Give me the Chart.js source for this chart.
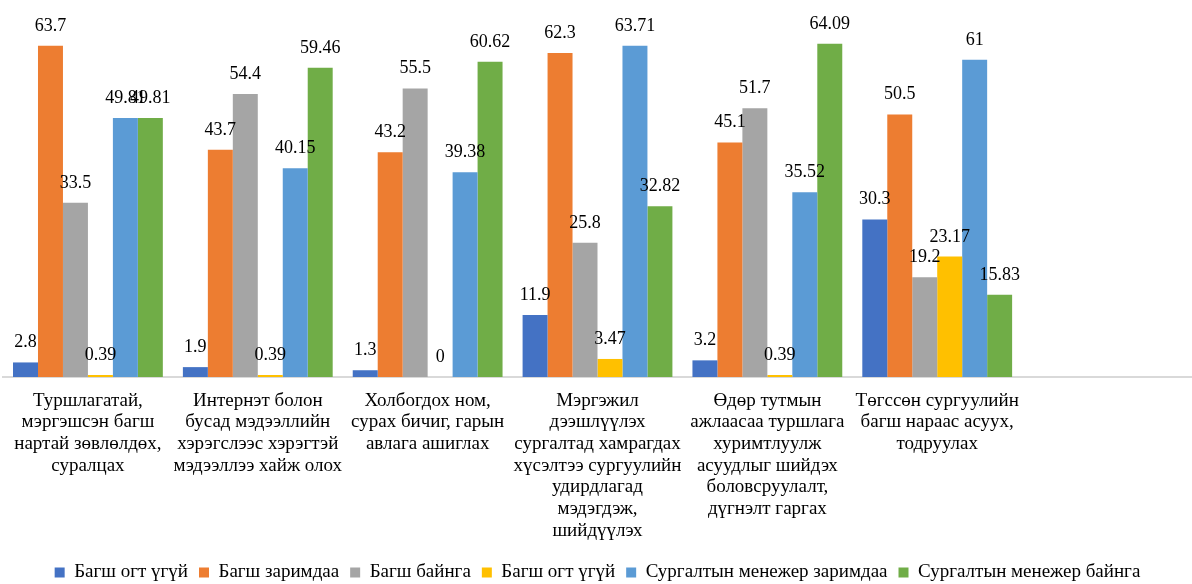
<!DOCTYPE html>
<html>
<head>
<meta charset="utf-8">
<title>Багш нарын мэдлэг олж авах арга</title>
<script src="https://cdn.jsdelivr.net/npm/chart.js@4.4.1/dist/chart.umd.min.js"></script>
<style>
  html, body { margin: 0; padding: 0; background: #fff; }
  #wrap { width: 1192px; height: 584px; }
</style>
</head>
<body>
<div id="wrap"><canvas id="myChart" width="1192" height="584"></canvas></div>
<script>
'use strict';

// categories (last slot left empty on the axis)
var categories = [
  ['Туршлагатай,', 'мэргэшсэн багш', 'нартай зөвлөлдөх,', 'суралцах'],
  ['Интернэт болон', 'бусад мэдээллийн', 'хэрэгслээс хэрэгтэй', 'мэдээллээ хайж олох'],
  ['Холбогдох ном,', 'сурах бичиг, гарын', 'авлага ашиглах'],
  ['Мэргэжил', 'дээшлүүлэх', 'сургалтад хамрагдах', 'хүсэлтээ сургуулийн', 'удирдлагад', 'мэдэгдэж,', 'шийдүүлэх'],
  ['Өдөр тутмын', 'ажлаасаа туршлага', 'хуримтлуулж', 'асуудлыг шийдэх', 'боловсруулалт,', 'дүгнэлт гаргах'],
  ['Төгссөн сургуулийн', 'багш нараас асуух,', 'тодруулах'],
  ''
];

var seriesNames = [
  'Багш огт үгүй',
  'Багш заримдаа',
  'Багш байнга',
  'Багш огт үгүй',
  'Сургалтын менежер заримдаа',
  'Сургалтын менежер байнга'
];

var teacherNever     = [2.8, 1.9, 1.3, 11.9, 3.2, 30.3];
var teacherSometimes = [63.7, 43.7, 43.2, 62.3, 45.1, 50.5];
var teacherAlways    = [33.5, 54.4, 55.5, 25.8, 51.7, 19.2];
var teacherNever2    = [0.39, 0.39, 0, 3.47, 0.39, 23.17];
var managerSometimes = [49.81, 40.15, 39.38, 63.71, 35.52, 61];
var managerAlways    = [49.81, 59.46, 60.62, 32.82, 64.09, 15.83];

var colors = ['#4472C4', '#ED7D31', '#A5A5A5', '#FFC000', '#5B9BD5', '#70AD47'];

var seriesValues = [teacherNever, teacherSometimes, teacherAlways, teacherNever2, managerSometimes, managerAlways];

var FONT = "'Liberation Serif', 'Times New Roman', serif";
Chart.defaults.font.family = FONT;
Chart.defaults.font.size = 18;
Chart.defaults.color = '#000';

// value labels above each bar
var valueLabels = {
  id: 'valueLabels',
  afterDatasetsDraw: function(chart) {
    var ctx = chart.ctx;
    ctx.save();
    ctx.font = '18px ' + FONT;
    ctx.fillStyle = '#000';
    ctx.textAlign = 'center';
    ctx.textBaseline = 'alphabetic';
    chart.data.datasets.forEach(function(ds, i) {
      var meta = chart.getDatasetMeta(i);
      meta.data.forEach(function(bar, j) {
        var v = ds.data[j];
        if (v === null || v === undefined) return;
        ctx.fillText(String(v), bar.x, bar.y - 15);
      });
    });
    ctx.restore();
  }
};

var datasets = seriesValues.map(function(vals, i) {
  return {
    label: seriesNames[i],
    data: vals,
    backgroundColor: colors[i],
    borderWidth: 0,
    barPercentage: 1.0,
    categoryPercentage: 0.882
  };
});

var ctx = document.getElementById('myChart').getContext('2d');
var myChart = new Chart(ctx, {
  type: 'bar',
  data: { labels: categories, datasets: datasets },
  options: {
    responsive: false,
    animation: false,
    layout: { padding: { top: 13, left: 3, right: 0, bottom: -8 } },
    plugins: {
      tooltip: { enabled: false },
      legend: {
        position: 'bottom',
        labels: {
          boxWidth: 10,
          boxHeight: 10,
          padding: 11,
          font: { size: 19, family: FONT },
          color: '#000'
        }
      }
    },
    scales: {
      x: {
        grid: { display: false },
        border: { display: true, color: '#d9d9d9', width: 2 },
        ticks: {
          autoSkip: false,
          maxRotation: 0,
          minRotation: 0,
          padding: 5,
          font: { size: 19, family: FONT, lineHeight: 1.14 },
          color: '#000'
        },
        afterFit: function(scale) { scale.height = 175; }
      },
      y: {
        display: false,
        min: 0,
        max: 70
      }
    }
  },
  plugins: [valueLabels]
});
</script>
</body>
</html>
